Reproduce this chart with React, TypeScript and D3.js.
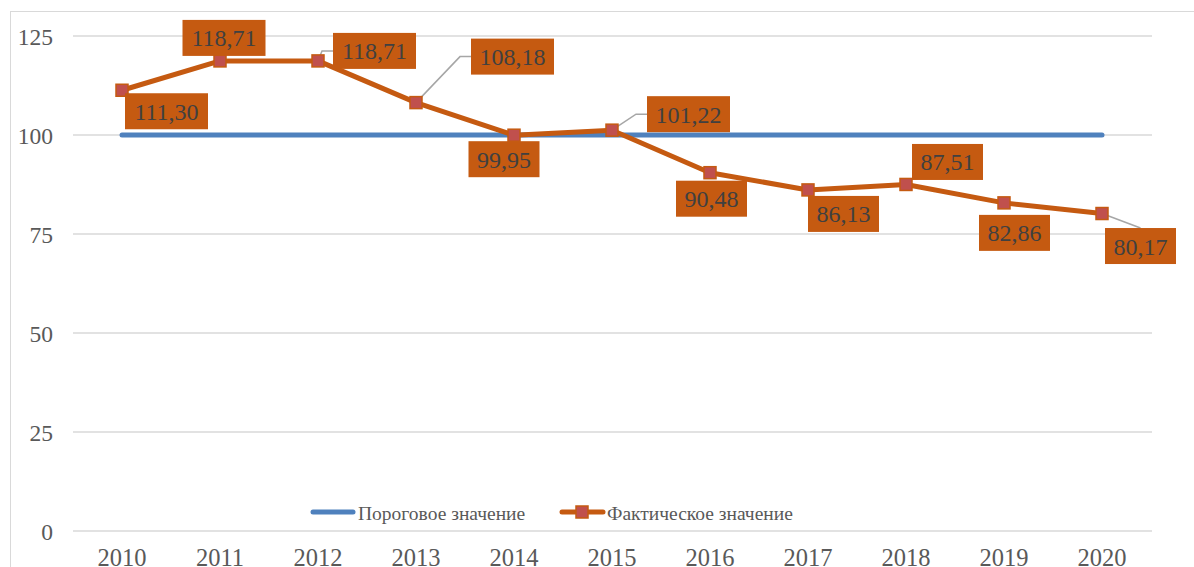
import React from "react";
import * as d3 from "d3";

const years = ["2010", "2011", "2012", "2013", "2014", "2015", "2016", "2017", "2018", "2019", "2020"];
const thresholdValues = [100, 100, 100, 100, 100, 100, 100, 100, 100, 100, 100];
const actualValues = [111.3, 118.71, 118.71, 108.18, 99.95, 101.22, 90.48, 86.13, 87.51, 82.86, 80.17];
const yTicks = [0, 25, 50, 75, 100, 125];
const seriesNames = ["Пороговое значение", "Фактическое значение"];

// label placement offsets (px, relative to the point) and whether a leader line is drawn
const labelOffsets: [number, number, boolean][] = [
  [44.5, 21, false],
  [4, -23, false],
  [56.5, -10, true],
  [96.5, -46, true],
  [-10, 24, false],
  [76.5, -16, true],
  [1.5, 26, false],
  [35.5, 24, false],
  [41.5, -22.5, false],
  [10.5, 30, false],
  [38.5, 32.5, true],
];

const W = 1194;
const H = 567;
const BLUE = "#4F81BD";
const ORANGE = "#C55A11";
const MARKER = "#C0504D";
const FONT = "Liberation Serif";
const LABEL_SIZE = 24;

const fmt = (v: number) => v.toFixed(2).replace(".", ",");

export default function App() {
  const x = d3.scaleBand<string>().domain(years).range([73, 1151]);
  const y = d3.scaleLinear().domain([0, 125]).range([531, 36]);
  const cx = (i: number) => (x(years[i]) as number) + x.bandwidth() / 2;

  const line = d3
    .line<number>()
    .x((_, i) => cx(i))
    .y((d) => y(d));

  const tStyle = { fontFamily: FONT };

  return (
    <svg
      width={W}
      height={H}
      style={{ position: "absolute", left: 0, top: 0, background: "#fff", fontFamily: FONT }}
    >
      <rect x={10.5} y={11.5} width={W + 20} height={H + 20} fill="#fff" stroke="#d9d9d9" strokeWidth={1} />
      {yTicks.map((t) => (
        <g key={t}>
          <line x1={73} x2={1152} y1={y(t)} y2={y(t)} stroke="#d9d9d9" strokeWidth={1.5} />
          <text x={53} y={y(t) + 8.5} textAnchor="end" fontSize={23.5} fill="#595959" style={tStyle}>
            {t}
          </text>
        </g>
      ))}
      {years.map((yr, i) => (
        <text key={yr} x={cx(i)} y={565.5} textAnchor="middle" fontSize={24.5} fill="#595959" style={tStyle}>
          {yr}
        </text>
      ))}
      <path d={line(thresholdValues) || ""} fill="none" stroke={BLUE} strokeWidth={5} strokeLinecap="round" />
      <path d={line(actualValues) || ""} fill="none" stroke={ORANGE} strokeWidth={5} strokeLinejoin="round" strokeLinecap="round" />
      {actualValues.map((v, i) => {
        const [dx, dy, leader] = labelOffsets[i];
        const px = cx(i);
        const py = y(v);
        const label = fmt(v);
        const w = label.length * 0.5 * LABEL_SIZE - 0.25 * LABEL_SIZE + 17;
        const h = 36;
        const bx = px + dx - w / 2;
        const by = py + dy - h / 2;
        let leaderPath = "";
        if (leader) {
          if (dy < 0 && dx > 0) {
            const ly = py + dy;
            leaderPath = `M${px},${py} L${bx - 11},${ly} L${bx},${ly}`;
            if (i === 2) leaderPath = `M${px},${py} L${px + 4},${ly} L${bx},${ly}`;
          } else {
            leaderPath = `M${px},${py} L${px + dx},${by}`;
          }
        }
        return (
          <g key={i}>
            {leader && <path d={leaderPath} fill="none" stroke="#a6a6a6" strokeWidth={1.5} />}
            <rect x={px - 6} y={py - 6} width={12} height={12} fill={MARKER} stroke={ORANGE} strokeWidth={1.5} />
            <rect x={bx} y={by} width={w} height={h} fill={ORANGE} />
            <text x={px + dx} y={py + dy + 8.5} textAnchor="middle" fontSize={LABEL_SIZE} fill="#404040" style={tStyle}>
              {label}
            </text>
          </g>
        );
      })}
      {/* legend */}
      <line x1={313} x2={353} y1={512} y2={512} stroke={BLUE} strokeWidth={5} strokeLinecap="round" />
      <text x={358} y={520} fontSize={19.5} fill="#595959" style={tStyle}>
        {seriesNames[0]}
      </text>
      <line x1={562} x2={603} y1={512} y2={512} stroke={ORANGE} strokeWidth={5} strokeLinecap="round" />
      <rect x={576} y={506} width={12} height={12} fill={MARKER} stroke={ORANGE} strokeWidth={1.5} />
      <text x={607} y={520} fontSize={19.5} fill="#595959" style={tStyle}>
        {seriesNames[1]}
      </text>
    </svg>
  );
}
